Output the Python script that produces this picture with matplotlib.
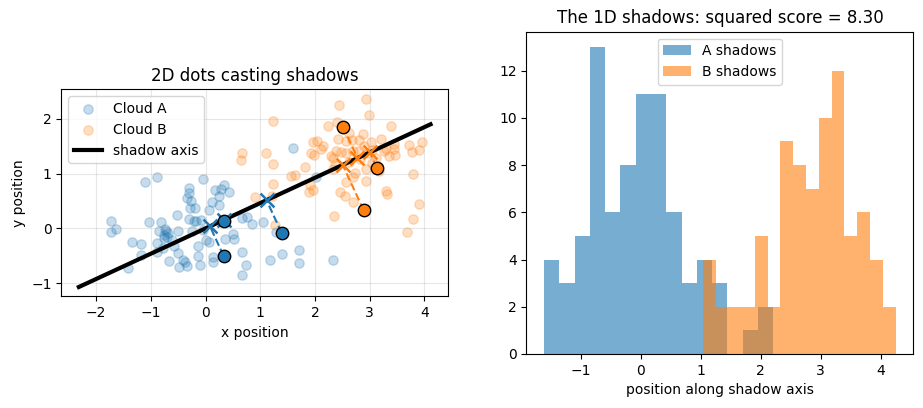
import numpy as np
import matplotlib
matplotlib.use("Agg")
import matplotlib.pyplot as plt

# cloud A dots (x, y)
cloud_a_x = [-1.72, -1.72, -1.64, -1.41, -1.34, -1.18, -1.18, -1.10, -1.04, -0.89,
             -0.88, -0.82, -0.88, -0.75, -0.72, -0.76, -0.69, -0.78, -0.67, -0.58,
             -0.53, -0.51, -0.50, -0.41, -0.48, -0.38, -0.33, -0.31, -0.31, -0.34,
             -0.27, -0.29, -0.31, -0.20, -0.13, -0.13, -0.11, -0.18, -0.08, -0.04,
             0.01, 0.06, 0.07, 0.11, 0.13, 0.14, 0.17, 0.25, 0.25, 0.28,
             0.34, 0.43, 0.35, 0.50, 0.52, 0.66, 0.66, 0.74, 0.67, 0.75,
             0.85, 1.05, 1.17, 1.28, 1.39, 1.60, 1.71, 1.71, 2.02, 2.33,
             -0.85, -0.74, -0.70, -0.21, -0.05, -0.62, -0.25]
cloud_a_y = [0.14, -0.07, -0.01, -0.72, -0.24, -0.28, -0.48, 0.84, 0.11, 0.93,
             -0.43, 0.11, -0.27, -0.12, -0.05, -0.18, -0.09, -0.35, -0.60, -0.32,
             0.24, -0.45, -0.05, -0.57, -0.71, -0.61, -0.68, 0.74, 0.65, 0.56,
             0.50, 0.38, 0.18, 0.38, -0.33, -0.51, -0.66, 0.13, 0.15, 0.90,
             -0.22, -0.25, 0.33, 0.49, -0.53, -0.61, 0.71, 0.60, 0.42, 0.72,
             0.79, 0.67, -0.20, -0.10, -0.19, 0.19, -0.44, -0.66, -0.85, 0.21,
             0.08, 0.12, -0.58, -0.07, -0.47, 1.47, -0.40, -0.63, 0.94, -0.58,
             -0.04, -0.02, -0.15, 0.13, -0.03, -0.22, -0.05]

# cloud B dots
cloud_b_x = [0.65, 0.67, 0.90, 1.10, 1.24, 1.24, 1.23, 1.21, 1.27, 1.57,
             1.63, 1.82, 1.90, 1.89, 1.96, 1.93, 1.96, 2.04, 2.11, 1.98,
             2.23, 2.30, 2.33, 2.36, 2.33, 2.34, 2.40, 2.43, 2.42, 2.48,
             2.57, 2.45, 2.54, 2.57, 2.63, 2.67, 2.69, 2.70, 2.73, 2.70,
             2.80, 2.82, 2.87, 2.89, 2.93, 2.93, 2.94, 2.98, 2.96, 3.02,
             3.11, 3.17, 3.20, 3.29, 3.35, 3.38, 3.44, 3.44, 3.47, 3.29,
             3.31, 3.71, 3.77, 3.79, 3.90, 3.96, 3.90, 3.80, 3.68,
             2.57, 2.38, 3.26, 3.04, 2.80, 2.62, 2.15, 3.05]
cloud_b_y = [1.25, 1.37, 0.57, 1.38, 1.96, 1.18, 0.81, 0.59, 0.06, 0.96,
             0.97, 1.13, 0.79, 0.66, 0.71, 1.37, 1.57, 1.60, 1.45, 1.35,
             1.87, 1.32, 1.29, 1.15, 1.08, 0.23, 1.95, 2.26, 1.63, 1.39,
             1.37, 0.66, 0.60, 0.85, 1.75, 1.62, 1.41, 0.93, 1.02, 0.49,
             1.62, 1.26, 1.72, 1.51, 1.08, 0.87, 2.37, 2.08, 1.38, 1.57,
             1.29, 1.05, 1.63, 1.45, 1.32, 1.87, 1.54, 1.45, 1.35, 0.69,
             0.63, 1.53, 1.39, 0.99, 1.44, 1.57, 0.45, 0.17, -0.07,
             1.59, 1.41, 1.42, 1.44, 1.42, 1.21, 1.50, 1.20]

# the few dots whose shadows are drawn
pick_a_x = [0.34, 0.33, 1.39]
pick_a_y = [0.14, -0.50, -0.08]
pick_b_x = [2.51, 3.13, 2.89]
pick_b_y = [1.86, 1.11, 0.33]

# shadow axis direction and the stretch of it that is drawn
axis_dir = [0.9076, 0.4199]
axis_t = [-2.55, 4.53]

# histogram of shadows
a_edges = [-1.610, -1.355, -1.101, -0.846, -0.592, -0.337, -0.082, 0.172, 0.427,
           0.681, 0.936, 1.191, 1.445, 1.700, 1.954, 2.209]
a_counts = [4, 3, 5, 13, 6, 8, 11, 11, 6, 3, 4, 3, 0, 1, 2]
b_edges = [1.046, 1.260, 1.473, 1.687, 1.900, 2.114, 2.328, 2.541, 2.755, 2.968,
           3.182, 3.396, 3.609, 3.823, 4.036, 4.250]
b_counts = [4, 2, 2, 2, 5, 2, 9, 8, 7, 10, 12, 5, 6, 4, 2]
score = 8.30

u = np.array(axis_dir)

def project(xs, ys):
    pts = np.column_stack([xs, ys])
    t = pts @ u
    return t[:, None] * u[None, :]

fig, (ax1, ax2) = plt.subplots(1, 2, figsize=(9.23, 4.08))
fig.subplots_adjust(left=0.0664, right=0.9895, top=0.9223, bottom=0.1324, wspace=0.2026)

ax1.scatter(cloud_a_x, cloud_a_y, s=45, color="C0", alpha=0.25, label="Cloud A")
ax1.scatter(cloud_b_x, cloud_b_y, s=45, color="C1", alpha=0.25, label="Cloud B")
line_pts = np.outer(axis_t, u)
ax1.plot(line_pts[:, 0], line_pts[:, 1], color="black", lw=3, label="shadow axis")

for px, py, col in [(pick_a_x, pick_a_y, "C0"), (pick_b_x, pick_b_y, "C1")]:
    proj = project(px, py)
    for i in range(len(px)):
        ax1.plot([px[i], proj[i, 0]], [py[i], proj[i, 1]], "--", color=col, lw=1.5)
    ax1.scatter(proj[:, 0], proj[:, 1], marker="x", s=100, color=col, linewidths=1.8, zorder=4)
    ax1.scatter(px, py, s=80, color=col, edgecolor="black", zorder=5)

ax1.set_aspect("equal")
ax1.grid(alpha=0.3)
ax1.set_xlabel("x position")
ax1.set_ylabel("y position")
ax1.set_title("2D dots casting shadows")
ax1.legend(loc="upper left")

ax2.hist(a_edges[:-1], bins=a_edges, weights=a_counts, color="C0", alpha=0.6, label="A shadows")
ax2.hist(b_edges[:-1], bins=b_edges, weights=b_counts, color="C1", alpha=0.6, label="B shadows")
ax2.set_xlabel("position along shadow axis")
ax2.set_title(f"The 1D shadows: squared score = {score:.2f}")
ax2.legend(loc="upper center")

fig.savefig("out.png", dpi=100)
